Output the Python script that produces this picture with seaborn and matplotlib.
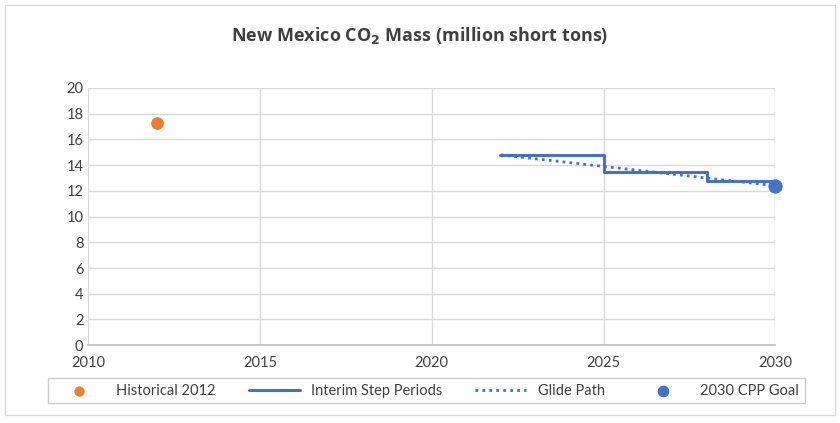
import matplotlib
matplotlib.use("Agg")
import matplotlib.pyplot as plt
import seaborn as sns
import pandas as pd
from matplotlib.patches import Rectangle

# values
hist_year = [2012]
hist_mass = [17.3]

step_years = [2022, 2025, 2028, 2030]
step_mass = [14.8, 13.5, 12.8, 12.8]

glide_years = [2022, 2023, 2024, 2025, 2026, 2027, 2028, 2029, 2030]
glide_mass = [14.8, 14.5, 14.2, 13.9, 13.6, 13.3, 13.0, 12.7, 12.4]

goal_year = [2030]
goal_mass = [12.4]

x_ticks = [2010, 2015, 2020, 2025, 2030]
y_ticks = list(range(0, 21, 2))

orange = "#ED7D31"
blue = "#4472C4"

sns.set_theme(style="white")
plt.rcParams['font.family'] = ['Lato', 'DejaVu Sans']

fig = plt.figure(figsize=(8.4, 4.23), dpi=100)
ax = fig.add_axes([0.105, 0.184, 0.818, 0.608])

# outer chart border
fig.patches.append(Rectangle((0.006, 0.018), 0.988, 0.97, transform=fig.transFigure,
                             fill=False, edgecolor="#d9d9d9", linewidth=1))

hist_df = pd.DataFrame({"year": hist_year, "mass": hist_mass})
step_df = pd.DataFrame({"year": step_years, "mass": step_mass})
glide_df = pd.DataFrame({"year": glide_years, "mass": glide_mass})
goal_df = pd.DataFrame({"year": goal_year, "mass": goal_mass})

sns.scatterplot(data=hist_df, x="year", y="mass", ax=ax, color=orange, s=70,
                edgecolor=orange, label="Historical 2012", zorder=4)
sns.lineplot(data=step_df, x="year", y="mass", ax=ax, color=blue, linewidth=2.2,
             drawstyle="steps-post", label="Interim Step Periods", zorder=3)
sns.lineplot(data=glide_df, x="year", y="mass", ax=ax, color=blue, linewidth=2,
             linestyle=(0, (1, 1.5)), label="Glide Path", zorder=3)
sns.scatterplot(data=goal_df, x="year", y="mass", ax=ax, color=blue, s=90,
                edgecolor=blue, label="2030 CPP Goal", zorder=5, clip_on=False)

ax.set_xlim(2010, 2030)
ax.set_ylim(0, 20)
ax.set_xticks(x_ticks)
ax.set_yticks(y_ticks)
ax.grid(True, color="#d9d9d9", linewidth=1)
ax.set_axisbelow(True)
for side in ["top", "right", "left"]:
    ax.spines[side].set_visible(False)
ax.spines["bottom"].set_color("#bfbfbf")
ax.tick_params(axis="both", labelsize=10.5, labelcolor="#404040", length=0)
ax.tick_params(axis="x", pad=8)
ax.set_xlabel("")
ax.set_ylabel("")

fig.text(0.5, 0.915, "New Mexico CO$_\\mathbf{2}$ Mass (million short tons)",
         ha="center", va="center", fontsize=13, fontweight="bold", color="#404040",
         family=["Open Sans", "DejaVu Sans"])

handles, labels = ax.get_legend_handles_labels()
ax.legend_.remove()
leg = fig.legend(handles, labels, loc="center", ncol=4,
                 bbox_to_anchor=(0.057, 0.035, 0.901, 0.083), mode="expand",
                 frameon=True, fancybox=False, fontsize=10.5, handlelength=3.5,
                 markerscale=0.8, borderaxespad=0, labelcolor="#404040")
leg.get_frame().set_edgecolor("#bfbfbf")
leg.get_frame().set_linewidth(1)

fig.savefig("out.png", dpi=100)
